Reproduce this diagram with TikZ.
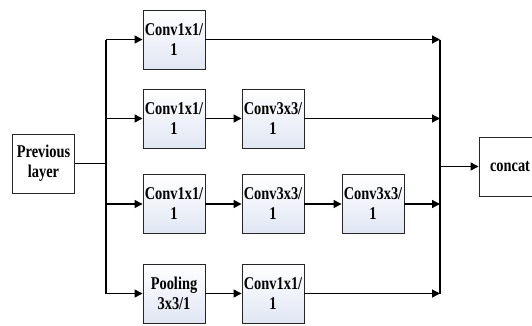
\documentclass[tikz,border=0pt]{standalone}
\usepackage{fontspec}
\newfontfamily\boxfont{Liberation Serif}[FakeStretch=0.8]
\usetikzlibrary{arrows.meta}
\definecolor{boxfill}{RGB}{224,230,243}
\tikzset{
  box/.style={draw=black!85, line width=0.9pt, minimum width=62pt, minimum height=59pt,
    inner sep=0pt, align=center, font=\boxfont\bfseries\fontsize{18}{20}\selectfont},
  convbox/.style={box, top color=white, bottom color=boxfill},
  plainbox/.style={box, fill=white},
  conn/.style={line width=1.3pt, black},
  arr/.style={conn, -{Triangle[length=8pt,width=8pt]}}
}
\begin{document}
\begin{tikzpicture}[x=1pt,y=-1pt]
\useasboundingbox (0,0) rectangle (532,325);
\node[plainbox] (prev) at (43.5,163.5) {Previous\\layer};
\node[convbox] (c11) at (174,39.5) {Conv1x1/\\1};
\node[convbox] (c21) at (174,118.5) {Conv1x1/\\1};
\node[convbox] (c22) at (273,118.5) {Conv3x3/\\1};
\node[convbox] (c31) at (174,204) {Conv1x1/\\1};
\node[convbox] (c32) at (273,204) {Conv3x3/\\1};
\node[convbox] (c33) at (373,204) {Conv3x3/\\1};
\node[convbox] (c41) at (174,293.5) {Pooling\\3x3/1};
\node[convbox] (c42) at (273,293.5) {Conv1x1/\\1};
\node[plainbox] (concat) at (510,166.5) {concat};
% left bus
\coordinate (b0) at (106,163.5);
\coordinate (b1) at (106,39.5);
\coordinate (b2) at (106,118.5);
\coordinate (b3) at (106,204);
\coordinate (b4) at (106,293.5);
\draw[conn] (prev) -- (b0);
\draw[conn] (b1) -- (b4);
\draw[arr] (b1) -- (c11);
\draw[arr] (b2) -- (c21);
\draw[arr] (b3) -- (c31);
\draw[arr] (b4) -- (c41);
% internal
\draw[arr] (c21) -- (c22);
\draw[arr] (c31) -- (c32);
\draw[arr] (c32) -- (c33);
\draw[arr] (c41) -- (c42);
% right bus
\coordinate (r1) at (440,39.5);
\coordinate (r2) at (440,118.5);
\coordinate (r3) at (440,204);
\coordinate (r4) at (440,293.5);
\coordinate (rc) at (440,166.5);
\draw[conn] (r1) -- (r4);
\draw[arr] (c11) -- (r1);
\draw[arr] (c22) -- (r2);
\draw[arr] (c33) -- (r3);
\draw[arr] (c42) -- (r4);
\draw[arr] (rc) -- (concat);
\end{tikzpicture}
\end{document}
